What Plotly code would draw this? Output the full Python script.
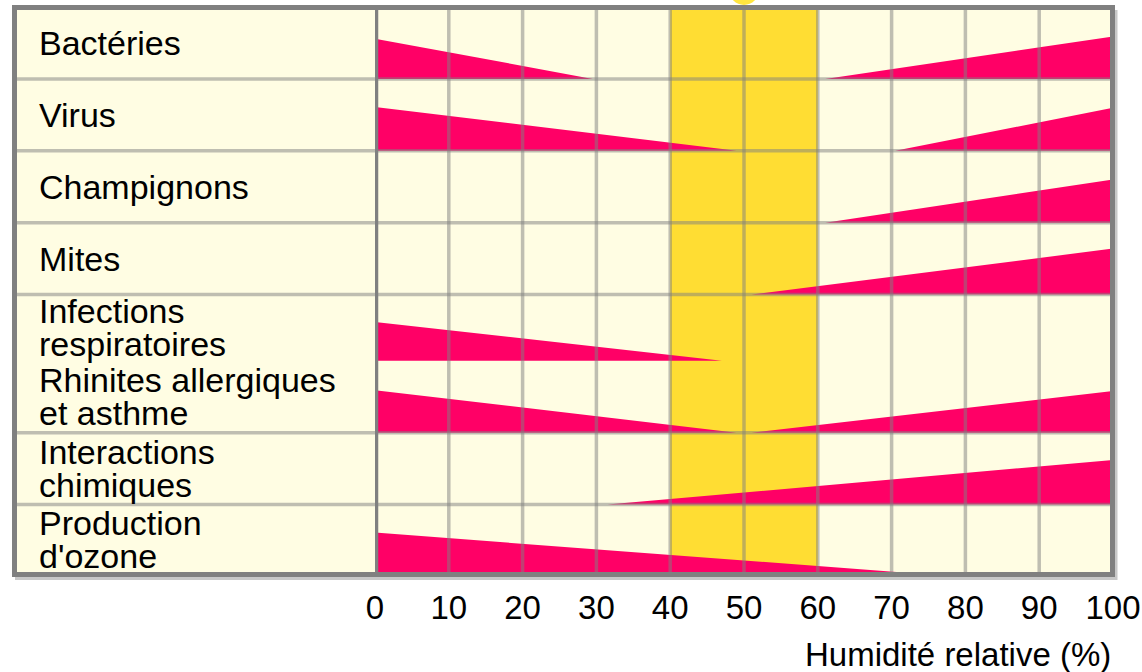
import plotly.graph_objects as go

W, H = 1142, 672

# ---------------- data ----------------
categories = ["Bactéries", "Virus", "Champignons", "Mites",
              "Infections respiratoires", "Rhinites allergiques et asthme",
              "Interactions chimiques", "Production d'ozone"]
label_lines = [["Bactéries"], ["Virus"], ["Champignons"], ["Mites"],
               ["Infections", "respiratoires"], ["Rhinites allergiques", "et asthme"],
               ["Interactions", "chimiques"], ["Production", "d'ozone"]]
# left wedge: risk decreasing from 0 % down to zero at left_end
left_end = [29.5, 49, None, None, 47, 49, None, 76]
left_height = [0.56, 0.61, 0, 0, 0.54, 0.59, 0, 0.59]
# right wedge: risk increasing from right_start up to 100 %
right_start = [61, 70.5, 61, 51, None, 51, 31.5, None]
right_height = [0.59, 0.60, 0.60, 0.64, 0, 0.58, 0.62, 0]
# row extents (row units, top = 0)
row_top = [0, 1, 2, 3, 4, 4.92, 5.92, 6.92]
row_bottom = [1, 2, 3, 4, 4.92, 5.92, 6.92, 7.9]
row_lines = [0, 1, 2, 3, 4, 5.92, 6.92, 7.9]
optimal_zone = [40, 60]
tick_values = [0, 10, 20, 30, 40, 50, 60, 70, 80, 90, 100]
tick_labels = ["0", "10", "20", "30", "40", "50", "60", "70", "80", "90", "100"]
axis_title = "Humidité relative (%)"

# ---------------- style ----------------
CREAM = "#FFFDE3"
YELLOW = "#FFDD33"
PINK = "#FF0066"
BORDER = "#808080"
GRID = "rgba(128,128,128,0.5)"
FONT = "Liberation Sans, Arial, sans-serif"
NARROW = "Liberation Sans Narrow, Liberation Sans, Arial, sans-serif"

YMAX = row_bottom[-1]
def px_x(p): return p / W
def px_y(p): return 1 - p / H

fig = go.Figure()

for i, cat in enumerate(categories):
    b = row_bottom[i]
    if left_end[i] is not None:
        fig.add_trace(go.Scatter(
            x=[0, 0, left_end[i], 0], y=[b, b - left_height[i], b, b],
            fill="toself", fillcolor=PINK, mode="lines", line=dict(width=0, color=PINK),
            hoverinfo="skip", showlegend=False, name=cat))
    if right_start[i] is not None:
        fig.add_trace(go.Scatter(
            x=[right_start[i], 100, 100, right_start[i]], y=[b, b - right_height[i], b, b],
            fill="toself", fillcolor=PINK, mode="lines", line=dict(width=0, color=PINK),
            hoverinfo="skip", showlegend=False, name=cat))

shapes = []
# label column background
shapes.append(dict(type="rect", xref="paper", yref="y", x0=px_x(12), x1=px_x(375),
                   y0=0, y1=YMAX, fillcolor=CREAM, line=dict(width=0), layer="below"))
# optimal humidity band
shapes.append(dict(type="rect", xref="x", yref="y", x0=optimal_zone[0], x1=optimal_zone[1],
                   y0=0, y1=YMAX, fillcolor=YELLOW, line=dict(width=0), layer="below"))
# vertical grid lines
for v in tick_values[1:-1]:
    shapes.append(dict(type="line", xref="x", yref="y", x0=v, x1=v, y0=0, y1=YMAX,
                       line=dict(color=GRID, width=3.5), layer="above"))
# horizontal row lines
for r in row_lines:
    shapes.append(dict(type="line", xref="paper", yref="y", x0=px_x(12), x1=px_x(1113),
                       y0=r, y1=r, line=dict(color=GRID, width=3.5), layer="above"))
# shadow
shapes.append(dict(type="line", xref="paper", yref="paper", x0=px_x(15), x1=px_x(1117),
                   y0=px_y(578.5), y1=px_y(578.5), line=dict(color="#C8C8C8", width=3), layer="above"))
shapes.append(dict(type="line", xref="paper", yref="paper", x0=px_x(1116), x1=px_x(1116),
                   y0=px_y(10), y1=px_y(580), line=dict(color="#C8C8C8", width=3), layer="above"))
# outer frame
shapes.append(dict(type="rect", xref="paper", yref="paper", x0=px_x(14.5), x1=px_x(1112.5),
                   y0=px_y(574.5), y1=px_y(7.5), line=dict(color=BORDER, width=5), layer="above"))
# divider between labels and chart
shapes.append(dict(type="line", xref="x", yref="y", x0=0, x1=0, y0=0, y1=YMAX,
                   line=dict(color=BORDER, width=6.5), layer="above"))
# small sun peeking at the top
shapes.append(dict(type="circle", xref="paper", yref="paper", x0=px_x(729), x1=px_x(759),
                   y0=px_y(5), y1=px_y(-25), fillcolor="#FFE640", line=dict(width=0), layer="above"))

annotations = []
line_gap = 0.46
for i, lines in enumerate(label_lines):
    c = (row_top[i] + row_bottom[i]) / 2
    n = len(lines)
    for j, t in enumerate(lines):
        y = c + (j - (n - 1) / 2) * line_gap
        annotations.append(dict(text=t, xref="paper", yref="y", x=px_x(37), y=y,
                                xanchor="left", yanchor="middle", showarrow=False,
                                font=dict(family=FONT, size=34, color="black")))
annotations.append(dict(text=axis_title, xref="paper", yref="paper", x=px_x(1113), y=px_y(654),
                        xanchor="right", yanchor="middle", showarrow=False,
                        font=dict(family=FONT, size=33, color="black")))

fig.update_layout(
    width=W, height=H, autosize=False,
    margin=dict(l=0, r=0, t=0, b=0, pad=0),
    paper_bgcolor="white", plot_bgcolor=CREAM,
    shapes=shapes, annotations=annotations, showlegend=False,
    xaxis=dict(domain=[px_x(375), px_x(1113)], range=[0, 100], tickvals=tick_values,
               ticktext=tick_labels, showgrid=False, zeroline=False, showline=False,
               ticks="", tickfont=dict(family=NARROW, size=33, color="black"),
               ticklabelstandoff=10, automargin=False, fixedrange=True),
    yaxis=dict(domain=[px_y(575), px_y(7)], range=[YMAX, 0], showgrid=False,
               zeroline=False, showline=False, showticklabels=False, ticks="",
               automargin=False, fixedrange=True),
)

fig.write_html("out.html", config={"displayModeBar": False, "responsive": False},
               post_script="document.body.style.margin='0';document.body.style.overflow='hidden';")
